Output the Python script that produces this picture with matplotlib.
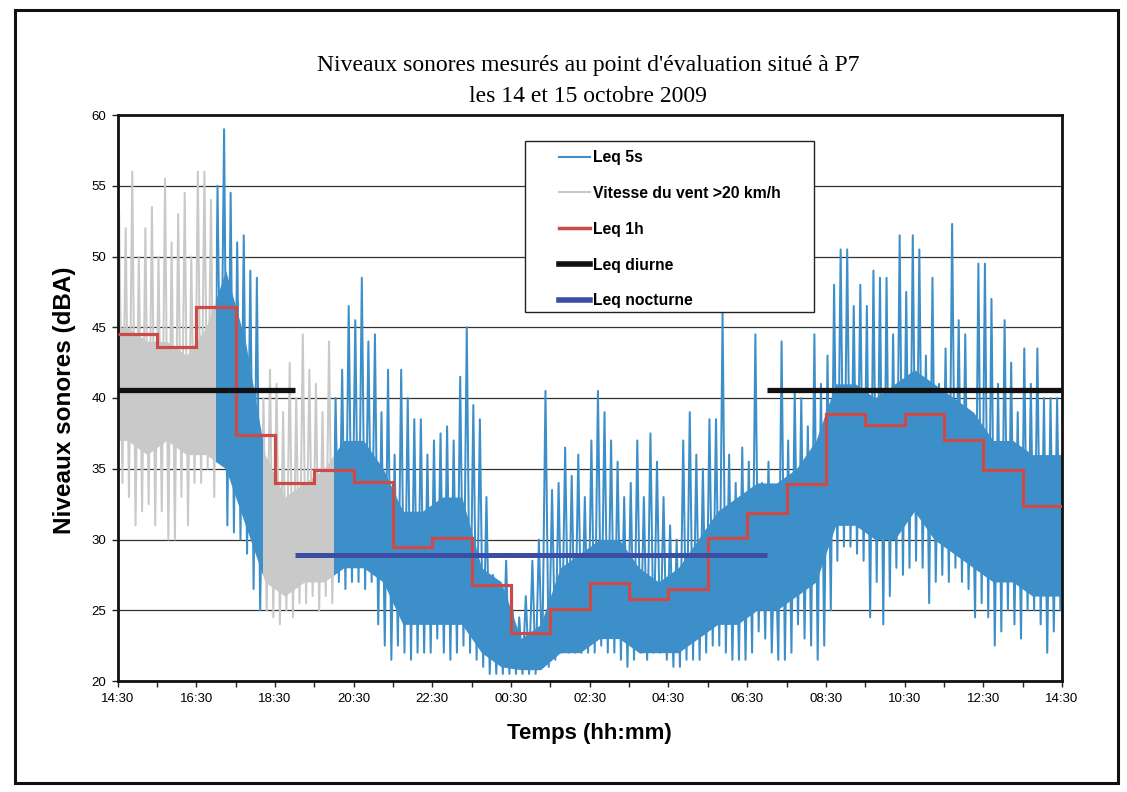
import matplotlib
matplotlib.use("Agg")
import matplotlib.pyplot as plt
import numpy as np
from matplotlib.patches import Rectangle
from matplotlib.lines import Line2D

# ---------------- data ----------------
title_lines = ["Niveaux sonores mesurés au point d'évaluation situé à P7",
               "les 14 et 15 octobre 2009"]
x_label = "Temps (hh:mm)"
y_label = "Niveaux sonores (dBA)"
x_tick_labels = ["14:30", "16:30", "18:30", "20:30", "22:30", "00:30", "02:30",
                 "04:30", "06:30", "08:30", "10:30", "12:30", "14:30"]
y_ticks = [20, 25, 30, 35, 40, 45, 50, 55, 60]

start_time = "14:30"
bin_minutes = 10  # envelope of the 5 s levels, one max/min pair per 10 min

leq5s_hi = [53, 52, 56, 50, 52, 53.5, 50, 55.5, 51, 53, 54.5, 50, 56, 56, 54,
            55, 59, 54.5, 51, 51.5, 49, 48.5,
            40, 42, 41, 39, 42.5, 40, 44.5, 42, 41, 39, 44,
            40, 42, 46.5, 45.5, 48.5, 44, 44.5, 39, 42, 36, 42, 40, 38.5, 38.5,
            36, 37, 37.5, 38, 37, 41.5, 45, 39.5, 38.5, 33,
            27.5, 27, 28.5, 25, 24.5, 26, 28.5, 30, 40.5, 33.5, 34, 36.5, 34.5,
            36, 33, 37, 40.5, 39, 37, 35.5, 33, 34, 37, 33, 37.5, 35.5, 33,
            31, 30, 37, 39, 36, 35, 38.5, 38.5, 46, 36, 34, 36.5, 35.5, 44.5,
            34, 35.5, 31, 44, 37, 40.5, 40, 38, 44.5, 41, 43, 48, 50.5, 50.5,
            46.5, 48, 46.5, 49, 48.5, 48.5, 44.5, 51.5, 47.5, 51.5, 50.5, 43,
            48.5, 41, 43.5, 52.3, 45.5, 44.5, 38, 49.5, 49.5, 47, 41, 45.5,
            42.5, 39, 43.5, 41, 43.5, 40, 40, 40]
leq5s_lo = [34, 33, 31, 32, 32.5, 31, 32, 30, 30, 33, 31, 34, 34, 35, 33,
            36, 31, 30.5, 30, 29, 26.5, 25,
            25, 24.5, 24, 25, 24.5, 25.5, 25.5, 26, 25, 26, 25.5,
            27, 26.5, 27, 27, 26.5, 27, 24, 22.5, 21.5, 22.5, 22, 21.5, 22, 22,
            22, 23, 22, 21.5, 22, 22.5, 22, 21.5, 21, 20.5,
            20.5, 20.5, 20.5, 20.5, 20.5, 20.5, 20.5, 21, 21, 21.5, 22, 22, 22,
            22, 22, 22, 22.5, 22, 22, 21.5, 21, 21.5, 22, 21.5, 22, 22, 21.5,
            21, 21, 21.5, 21.5, 21.5, 22, 22.5, 22.5, 22, 21.5, 21.5, 21.5, 22,
            23.5, 23, 22, 21.5, 21.5, 22, 24, 23, 22.5, 21.5, 22.5, 25, 28.5,
            29.5, 29.5, 29, 28.5, 24.5, 27, 24, 26, 28, 27.5, 28, 28.5, 28,
            25.5, 27, 27.5, 27, 28, 27, 26.5, 24.5, 25.5, 24.5, 22.5, 23.5, 25,
            24, 23, 25, 25, 24, 22, 23.5, 25]

# dense core of the 5 s levels, per 30 min
core_minutes = 30
core_hi = [45, 44, 44, 43, 45, 49, 44, 36, 33, 34, 35, 37, 37, 35, 32, 32,
           33, 33, 28, 27, 23, 24, 28, 29, 30, 30, 28, 27, 28, 30, 32, 33,
           34, 34, 35, 37, 41, 41, 40, 41, 42, 41, 40, 39, 37, 37, 36, 36]
core_lo = [37, 36, 37, 36, 36, 35, 31, 27, 26, 27, 27, 28, 28, 27, 24, 24,
           24, 24, 22, 21, 20.8, 20.8, 22, 22, 23, 23, 22, 22, 22, 23, 24, 24,
           25, 25, 26, 27, 31, 31, 30, 30, 32, 30, 29, 28, 27, 27, 26, 26]

wind_periods = [("14:30", "17:00"), ("18:10", "20:00")]

leq1h = [44.5, 43.6, 46.4, 37.4, 34.0, 34.9, 34.05, 29.5, 30.1, 26.75, 23.4, 25.1,
         26.9, 25.8, 26.5, 30.1, 31.9, 33.9, 38.9, 38.1, 38.9, 37.0, 34.9, 32.35]

leq_diurne = 40.6
diurne_periods = [("14:30", "19:00"), ("07:00", "14:30")]
leq_nocturne = 28.9
nocturne_periods = [("19:00", "07:00")]

legend_labels = ["Leq 5s", "Vitesse du vent >20 km/h", "Leq 1h", "Leq diurne",
                 "Leq nocturne"]

# ---------------- styles ----------------
C_BLUE = "#3d8fc9"
C_GRAY = "#c9c9c9"
C_RED = "#cc4a48"
C_BLACK = "#111111"
C_NAVY = "#3b4ea3"

W, H = 1127, 792


def to_h(s, end=False):
    hh, mm = map(int, s.split(":"))
    sh, sm = map(int, start_time.split(":"))
    v = (hh + mm / 60.0) - (sh + sm / 60.0)
    if v < 0:
        v += 24
    if end and v == 0:
        v = 24
    return v


def in_wind(t):
    t = np.asarray(t)
    m = np.zeros(t.shape, dtype=bool)
    for a, b in wind_periods:
        m |= (t >= to_h(a)) & (t < to_h(b, end=True))
    return m


fig = plt.figure(figsize=(W / 100, H / 100), dpi=100)
L, R, T, B = 117.5, 1062, 115, 681
ax = fig.add_axes([L / W, 1 - B / H, (R - L) / W, (B - T) / H])

# colour spans (wind = gray, otherwise blue)
wind_spans = [(to_h(a), to_h(b, end=True)) for a, b in wind_periods]
bounds = sorted({0.0, 24.0} | {v for sp in wind_spans for v in sp})
spans = []
for a, b in zip(bounds[:-1], bounds[1:]):
    w = bool(in_wind([(a + b) / 2])[0])
    spans.append((a, b, w))

# ---- dense core band ----
ch = core_minutes / 60.0
tc = np.concatenate([[0.0], np.arange(len(core_hi)) * ch + ch / 2, [24.0]])
chi_c = np.concatenate([[core_hi[0]], core_hi, [core_hi[-1]]])
clo_c = np.concatenate([[core_lo[0]], core_lo, [core_lo[-1]]])
for a, b, w in spans:
    poly = ax.fill_between(tc, clo_c, chi_c, color=C_GRAY if w else C_BLUE, lw=0,
                           zorder=2 if w else 2.5)
    poly.set_clip_path(Rectangle((a, 0), b - a, 100, transform=ax.transData))

# ---- 5 s levels: per bin peak and trough (zigzag) ----
bh = bin_minutes / 60.0
n = len(leq5s_hi)
base = np.arange(n) * bh
xs = np.empty(2 * n)
ys = np.empty(2 * n)
xs[0::2] = base + bh * 0.25
xs[1::2] = base + bh * 0.75
ys[0::2] = leq5s_hi
ys[1::2] = leq5s_lo
for a, b, w in spans:
    ln, = ax.plot(xs, ys, color=C_GRAY if w else C_BLUE, lw=1.45,
                  zorder=2 if w else 2.5)
    ln.set_clip_path(Rectangle((a, 0), b - a, 100, transform=ax.transData))

# ---- hourly Leq ----
edges = np.arange(len(leq1h) + 1)
ax.stairs(leq1h, edges, color=C_RED, lw=2.3, zorder=3, baseline=None)

for a, b in diurne_periods:
    ax.plot([to_h(a), to_h(b, end=True)], [leq_diurne] * 2, color=C_BLACK,
            lw=3.8, zorder=4, solid_capstyle="butt")
for a, b in nocturne_periods:
    ax.plot([to_h(a), to_h(b, end=True)], [leq_nocturne] * 2, color=C_NAVY,
            lw=3.6, zorder=4, solid_capstyle="butt")

# ---- axes ----
ax.set_xlim(0, 24)
ax.set_ylim(20, 60)
ax.set_yticks(y_ticks)
ax.set_yticklabels([str(v) for v in y_ticks], fontsize=9.5, family="Liberation Sans")
ax.set_xticks(np.arange(0, 25, 2))
ax.set_xticks(np.arange(1, 24, 2), minor=True)
ax.set_xticklabels(x_tick_labels, fontsize=9.5, family="Liberation Sans")
ax.tick_params(axis="both", which="both", direction="out", length=4, width=1,
               color="#222222")
ax.tick_params(axis="x", pad=5)
ax.tick_params(axis="y", pad=4)
ax.yaxis.grid(True, color="#333333", lw=0.9)
ax.set_axisbelow(True)
for sp in ax.spines.values():
    sp.set_linewidth(2.0)
    sp.set_color("#111111")

fig.text((L + R) / 2 / W, 1 - 733 / H, x_label, ha="center", va="center",
         fontsize=16, fontweight="bold", family="Liberation Sans")
fig.text(65 / W, 1 - 400 / H, y_label, ha="center", va="center", rotation=90,
         fontsize=17.5, fontweight="bold", family="Liberation Sans")
fig.text(588 / W, 1 - 65 / H, title_lines[0], ha="center", va="center",
         fontsize=17, family="Liberation Serif")
fig.text(588 / W, 1 - 97 / H, title_lines[1], ha="center", va="center",
         fontsize=17, family="Liberation Serif")

# ---- legend ----
handles = [Line2D([], [], color=C_BLUE, lw=1.5),
           Line2D([], [], color=C_GRAY, lw=1.5),
           Line2D([], [], color=C_RED, lw=2.5),
           Line2D([], [], color=C_BLACK, lw=4),
           Line2D([], [], color=C_NAVY, lw=4)]
frame = Rectangle((525 / W, 1 - 312 / H), (814 - 525) / W, (312 - 141) / H,
                  transform=fig.transFigure, facecolor="white", edgecolor="#222222",
                  lw=1.0, zorder=5, clip_on=False)
ax.add_patch(frame)
leg = ax.legend(handles, legend_labels, loc="upper left",
                bbox_to_anchor=(559 / W, 1 - 150 / H), bbox_transform=fig.transFigure,
                frameon=False, prop={"family": "Liberation Sans", "weight": "bold",
                                     "size": 11.3},
                handlelength=2.0, handletextpad=0.15, labelspacing=1.33, borderpad=0,
                borderaxespad=0)
leg.set_zorder(6)

# ---- outer border ----
fig.add_artist(Rectangle((15 / W, 1 - 783 / H), (1118 - 15) / W, (783 - 10) / H,
                         transform=fig.transFigure, fill=False, edgecolor="#111111",
                         lw=2.2))

fig.savefig("out.png", dpi=100)
